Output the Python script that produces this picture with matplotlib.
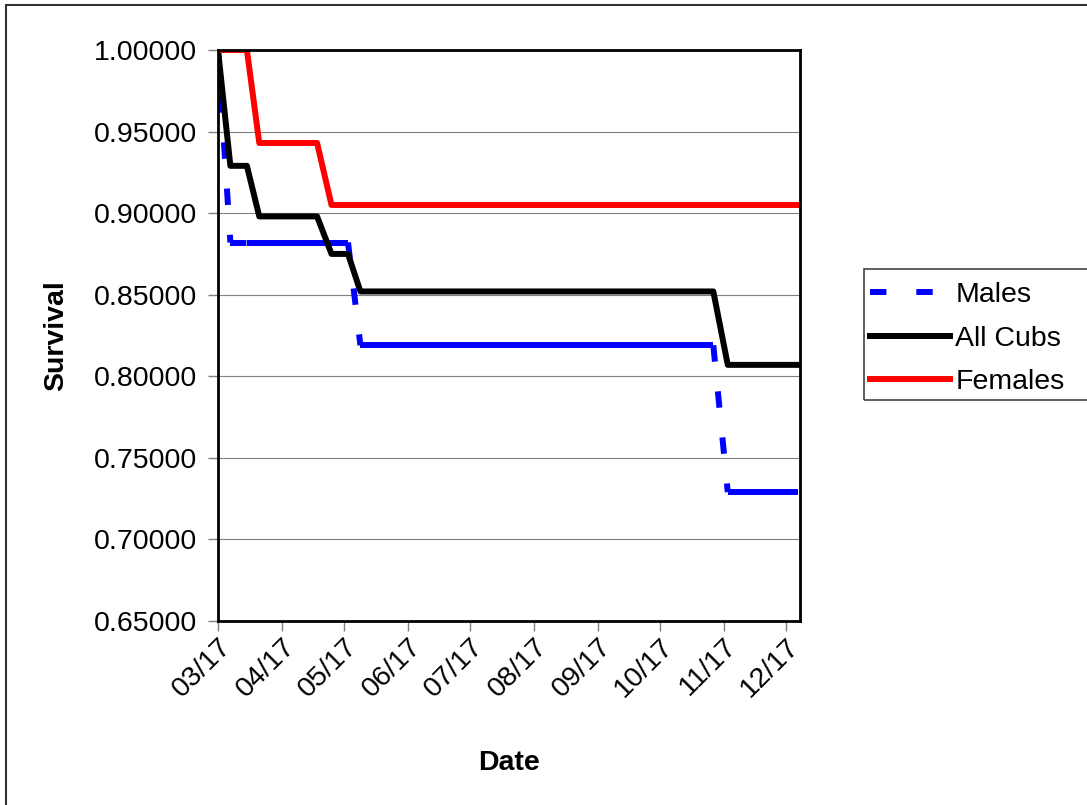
import matplotlib
matplotlib.use("Agg")
import matplotlib.pyplot as plt
import matplotlib.dates as mdates
from matplotlib.lines import Line2D
from matplotlib.patches import Rectangle
import numpy as np

plt.rcParams['font.family'] = ['Liberation Sans', 'DejaVu Sans']

# survival estimates per check date (2003 season)
dates = np.array([
    '2003-03-17', '2003-03-23', '2003-03-31', '2003-04-06', '2003-04-13', '2003-04-20',
    '2003-04-27', '2003-05-04', '2003-05-11', '2003-05-19', '2003-05-25', '2003-06-01',
    '2003-06-08', '2003-06-15', '2003-06-22', '2003-06-29', '2003-07-06', '2003-07-13',
    '2003-07-20', '2003-07-27', '2003-08-03', '2003-08-10', '2003-08-17', '2003-08-24',
    '2003-08-31', '2003-09-07', '2003-09-14', '2003-09-21', '2003-09-28', '2003-10-05',
    '2003-10-12', '2003-10-19', '2003-10-26', '2003-11-02', '2003-11-09', '2003-11-12',
    '2003-11-19', '2003-11-26', '2003-12-03', '2003-12-10', '2003-12-17', '2003-12-23',
], dtype='datetime64[D]')

males = [1.000, 0.882, 0.882, 0.882, 0.882, 0.882, 0.882, 0.882, 0.882, 0.882,
         0.819, 0.819, 0.819, 0.819, 0.819, 0.819, 0.819, 0.819, 0.819, 0.819,
         0.819, 0.819, 0.819, 0.819, 0.819, 0.819, 0.819, 0.819, 0.819, 0.819,
         0.819, 0.819, 0.819, 0.819, 0.819, 0.819, 0.729, 0.729, 0.729, 0.729,
         0.729, 0.729]
all_cubs = [1.000, 0.929, 0.929, 0.898, 0.898, 0.898, 0.898, 0.898, 0.875, 0.875,
            0.852, 0.852, 0.852, 0.852, 0.852, 0.852, 0.852, 0.852, 0.852, 0.852,
            0.852, 0.852, 0.852, 0.852, 0.852, 0.852, 0.852, 0.852, 0.852, 0.852,
            0.852, 0.852, 0.852, 0.852, 0.852, 0.852, 0.807, 0.807, 0.807, 0.807,
            0.807, 0.807]
females = [1.000, 1.000, 1.000, 0.943, 0.943, 0.943, 0.943, 0.943, 0.905, 0.905,
           0.905, 0.905, 0.905, 0.905, 0.905, 0.905, 0.905, 0.905, 0.905, 0.905,
           0.905, 0.905, 0.905, 0.905, 0.905, 0.905, 0.905, 0.905, 0.905, 0.905,
           0.905, 0.905, 0.905, 0.905, 0.905, 0.905, 0.905, 0.905, 0.905, 0.905,
           0.905, 0.905]

labels = ['Males', 'All Cubs', 'Females']
tick_dates = np.array(['2003-%02d-17' % m for m in range(3, 13)], dtype='datetime64[D]')
y_ticks = [0.65, 0.70, 0.75, 0.80, 0.85, 0.90, 0.95, 1.00]

W, H = 1087, 805
FS = 20.5
LW = 4.3
DASH = (2.75, 5.0)

fig = plt.figure(figsize=(W / 100, H / 100), dpi=100)
ax = fig.add_axes([218 / W, 1 - 621 / H, (800 - 218) / W, (621 - 50) / H])

# males: each segment stroked on its own so the dash pattern restarts at every point
for i in range(len(dates) - 1):
    ax.plot(dates[i:i + 2], males[i:i + 2], color='#0000ff', lw=LW, dashes=DASH,
            dash_capstyle='butt')
ax.plot(dates, all_cubs, color='black', lw=LW)
ax.plot(dates, females, color='#ff0000', lw=LW)

ax.set_ylim(0.65, 1.0)
ax.set_yticks(y_ticks)
ax.yaxis.set_major_formatter(plt.FormatStrFormatter('%.5f'))
ax.set_xlim(np.datetime64('2003-03-17'), np.datetime64('2003-12-24'))
ax.set_xticks(tick_dates)
ax.xaxis.set_major_formatter(mdates.DateFormatter('%m/%d'))

ax.grid(axis='y', color='#808080', lw=0.8)
ax.set_axisbelow(True)
for s in ax.spines.values():
    s.set_linewidth(2.0)
    s.set_color('black')
ax.tick_params(axis='both', direction='out', length=7, width=1.0, color='#808080',
               labelsize=FS, labelcolor='black')
ax.tick_params(axis='y', pad=8)
ax.tick_params(axis='x', pad=2)
for lab in ax.get_xticklabels():
    lab.set_rotation(45)
    lab.set_ha('right')
    lab.set_rotation_mode('anchor')

ax.set_xlabel('Date', fontsize=FS, fontweight='bold')
ax.xaxis.set_label_coords(0.5, (621 - 750) / 571)
ax.set_ylabel('Survival', fontsize=FS, fontweight='bold')
ax.yaxis.set_label_coords((69 - 218) / 582, 0.5)

# outer chart frame, open to the right and bottom
fig.patches.append(Rectangle((6 / W, -0.05), 1.2, 1 - 5 / H + 0.05, transform=fig.transFigure,
                             fill=False, edgecolor='#333333', lw=1.5))

# legend box
fig.patches.append(Rectangle((864 / W, 1 - 400 / H), 0.5, (400 - 269) / H, transform=fig.transFigure,
                             fill=False, edgecolor='#444444', lw=1.2))
leg_handles = [Line2D([], [], color='#0000ff', lw=LW, dashes=DASH, dash_capstyle='butt'),
               Line2D([], [], color='black', lw=LW),
               Line2D([], [], color='#ff0000', lw=LW)]
fig.legend(leg_handles, labels, loc='upper left',
           bbox_to_anchor=(850 / W, 1 - 262 / H), frameon=False, fontsize=FS,
           handlelength=2.8, handletextpad=0.2, labelspacing=0.62, borderpad=0.2)

fig.savefig('out.png', dpi=100)
